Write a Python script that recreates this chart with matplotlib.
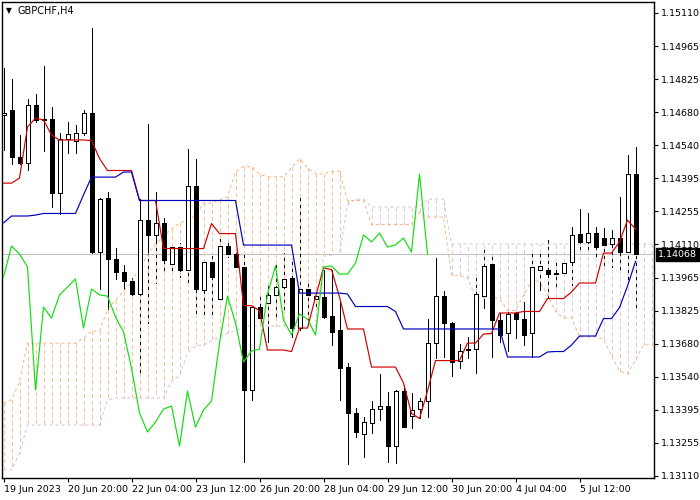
import numpy as np
import matplotlib.pyplot as plt
from matplotlib.patches import Rectangle
from matplotlib.transforms import blended_transform_factory

# GBPCHF H4 candles (bar 0 = 19 Jun 2023 12:00)
opens = [1.14669, 1.14691, 1.14488, 1.14462, 1.14712, 1.14652, 1.14652, 1.14332, 1.14566, 1.14557,
         1.14591, 1.14678, 1.14077, 1.14311, 1.14047, 1.13991, 1.13952, 1.13896, 1.14216, 1.14151,
         1.14203, 1.14026, 1.14099, 1.14000, 1.14362, 1.13913, 1.14034, 1.13874, 1.14103, 1.14069,
         1.14013, 1.13481, 1.13840, 1.13857, 1.13892, 1.13926, 1.13965, 1.13749, 1.13918, 1.13874,
         1.13883, 1.13801, 1.13740, 1.13580, 1.13382, 1.13291, 1.13339, 1.13399, 1.13412, 1.13239,
         1.13477, 1.13369, 1.13399, 1.13434, 1.13684, 1.13887, 1.13771, 1.13606, 1.13654, 1.13658,
         1.13887, 1.14026, 1.13784, 1.13727, 1.13814, 1.13788, 1.13727, 1.14000, 1.14000, 1.13987,
         1.13987, 1.14034, 1.14155, 1.14121, 1.14159, 1.14138, 1.14112, 1.14138, 1.14077, 1.14414]
highs = [1.14872, 1.14825, 1.14583, 1.14738, 1.14760, 1.14881, 1.14704, 1.14591, 1.14639, 1.14626,
         1.14691, 1.15045, 1.14311, 1.14337, 1.14095, 1.14021, 1.13965, 1.14306, 1.14630, 1.14337,
         1.14224, 1.14116, 1.14116, 1.14522, 1.14479, 1.14034, 1.14073, 1.14138, 1.14125, 1.14086,
         1.14073, 1.13840, 1.13900, 1.13943, 1.14021, 1.14073, 1.14043, 1.14328, 1.13943, 1.13904,
         1.13999, 1.13999, 1.13861, 1.13598, 1.13403, 1.13365, 1.13434, 1.13550, 1.13472, 1.13481,
         1.13503, 1.13468, 1.13447, 1.13788, 1.14051, 1.13909, 1.13775, 1.13680, 1.13710, 1.13969,
         1.14086, 1.14064, 1.13814, 1.13827, 1.13827, 1.13861, 1.14073, 1.14073, 1.14129, 1.14043,
         1.14047, 1.14185, 1.14263, 1.14246, 1.14185, 1.14181, 1.14172, 1.14315, 1.14496, 1.14531]
lows = [1.14518, 1.14458, 1.14458, 1.14432, 1.14639, 1.14514, 1.14272, 1.14242, 1.14505, 1.14505,
        1.14583, 1.14073, 1.13918, 1.13814, 1.13961, 1.13918, 1.13887, 1.13555, 1.13771, 1.13943,
        1.13987, 1.13987, 1.13969, 1.13943, 1.13814, 1.13792, 1.13792, 1.13870, 1.14056, 1.14013,
        1.13170, 1.13438, 1.13792, 1.13689, 1.13797, 1.13814, 1.13710, 1.13740, 1.13762, 1.13827,
        1.13792, 1.13676, 1.13438, 1.13162, 1.13278, 1.13192, 1.13295, 1.13352, 1.13170, 1.13166,
        1.13321, 1.13317, 1.13360, 1.13365, 1.13619, 1.13624, 1.13542, 1.13576, 1.13619, 1.13555,
        1.13835, 1.13624, 1.13689, 1.13650, 1.13706, 1.13676, 1.13624, 1.13913, 1.13883, 1.13926,
        1.13982, 1.13935, 1.14073, 1.14086, 1.14043, 1.14021, 1.14013, 1.13987, 1.13943, 1.13822]
closes = [1.14678, 1.14488, 1.14462, 1.14712, 1.14648, 1.14648, 1.14332, 1.14566, 1.14587, 1.14591,
          1.14678, 1.14077, 1.14306, 1.14047, 1.13991, 1.13952, 1.13896, 1.14216, 1.14151, 1.14203,
          1.14043, 1.14099, 1.14000, 1.14362, 1.13918, 1.14034, 1.13969, 1.14103, 1.14069, 1.14013,
          1.13481, 1.13840, 1.13792, 1.13892, 1.13926, 1.13961, 1.13749, 1.13918, 1.13892, 1.13887,
          1.13797, 1.13732, 1.13576, 1.13382, 1.13300, 1.13343, 1.13399, 1.13412, 1.13239, 1.13477,
          1.13321, 1.13395, 1.13434, 1.13684, 1.13887, 1.13771, 1.13602, 1.13650, 1.13658, 1.13896,
          1.14017, 1.13784, 1.13719, 1.13810, 1.13788, 1.13719, 1.14013, 1.14017, 1.13982, 1.13982,
          1.14030, 1.14151, 1.14121, 1.14159, 1.14099, 1.14108, 1.14138, 1.14077, 1.14414, 1.14068]

tenkan_start = [1.14375, 1.14375, 1.14397, 1.14617, 1.14656, 1.14648, 1.14583, 1.14561]
kijun_start = [1.14203, 1.14233, 1.14233, 1.14233, 1.14237, 1.14244, 1.14244, 1.14244, 1.14244, 1.14244,
               1.14324, 1.14401, 1.14401, 1.14401, 1.14401, 1.14423, 1.14423, 1.14300, 1.14300, 1.14300,
               1.14300, 1.14300, 1.14300, 1.14300, 1.14300]
span_a_start = [1.13425, 1.13438, 1.13516, 1.13684, 1.13684, 1.13684, 1.13684, 1.13684, 1.13684, 1.13684,
                1.13706, 1.13736, 1.13736, 1.13827, 1.13870, 1.13909, 1.13948, 1.14008, 1.14064, 1.14112,
                1.14146, 1.14177, 1.14203, 1.14216, 1.14233, 1.14289]
span_b = [1.13136, 1.13136, 1.13209, 1.13330, 1.13330, 1.13330, 1.13330, 1.13330, 1.13330, 1.13330,
          1.13330, 1.13330, 1.13330, 1.13438, 1.13447, 1.13447, 1.13447, 1.13447, 1.13447, 1.13447,
          1.13447, 1.13520, 1.13542, 1.13641, 1.13671, 1.13676, 1.13693, 1.13710, 1.13727, 1.13736,
          1.13758, 1.13758, 1.13758, 1.13758, 1.13758, 1.13758, 1.13758, 1.13758, 1.13758, 1.13758,
          1.14060, 1.14064, 1.14069, 1.14280, 1.14306, 1.14306, 1.14272, 1.14272, 1.14272, 1.14272,
          1.14272, 1.14272, 1.14272, 1.14306, 1.14306, 1.14306, 1.14112, 1.14112, 1.14112, 1.14112,
          1.14112, 1.14112, 1.14112, 1.14112, 1.14112, 1.14112, 1.14112, 1.14112, 1.14112, 1.14112,
          1.14112, 1.14112, 1.14112, 1.14112, 1.14112, 1.14112, 1.14112, 1.14112, 1.14112, 1.14112,
          1.14112, 1.14112]

price_ticks = ['1.13110', '1.13255', '1.13395', '1.13540', '1.13680', '1.13825', '1.13965', '1.14110',
               '1.14255', '1.14395', '1.14540', '1.14680', '1.14825', '1.14965', '1.15110']
date_ticks = [0, 8, 16, 24, 32, 40, 48, 56, 64, 72]
date_labels = ['19 Jun 2023', '20 Jun 20:00', '22 Jun 04:00', '23 Jun 12:00', '26 Jun 20:00',
               '28 Jun 04:00', '29 Jun 12:00', '30 Jun 20:00', '4 Jul 04:00', '5 Jul 12:00']
last_price = 1.14068

n = len(closes)
h = np.array(highs)
l = np.array(lows)

# Tenkan / Kijun from the candles once enough bars are on the chart
tenkan = list(tenkan_start)
for i in range(len(tenkan_start), n):
    tenkan.append((h[i - 8:i + 1].max() + l[i - 8:i + 1].min()) / 2)
kijun = list(kijun_start)
for i in range(len(kijun_start), n):
    kijun.append((h[i - 25:i + 1].max() + l[i - 25:i + 1].min()) / 2)

n_cloud = len(span_b)
span_a = list(span_a_start)
for k in range(len(span_a_start), n_cloud):
    span_a.append((tenkan[k - 26] + kijun[k - 26]) / 2)

chikou = closes[26:]

plt.rcParams['lines.scale_dashes'] = False
px = 0.72  # one pixel in points at 100 dpi
dash = (0, (3 * px, 3 * px))
sandy = '#f4a460'
thistle = '#d8bfd8'

fig = plt.figure(figsize=(7, 5), dpi=100)
ax = fig.add_axes([2 / 700, 22 / 500, 652 / 700, 476 / 500])

# cloud hatch: one dashed vertical per bar, drawn over the wicks
for k in range(n_cloud):
    up = span_a[k] >= span_b[k]
    col = '#f7c4a0' if up else '#dccadc'
    ax.plot([k, k], [span_a[k], span_b[k]], color=col, lw=px, linestyle=dash,
            antialiased=False, zorder=3)
ax.plot(range(n_cloud), span_a, color=sandy, lw=px, linestyle=dash, alpha=0.8, zorder=3)
ax.plot(range(n_cloud), span_b, color=thistle, lw=px, linestyle=dash, zorder=3)

ax.axhline(last_price, color='#c0c0c0', lw=px, antialiased=False, zorder=1)

# candles
for i in range(n):
    ax.plot([i, i], [lows[i], highs[i]], color='black', lw=px, antialiased=False, zorder=2)
    bottom = min(opens[i], closes[i])
    height = max(abs(closes[i] - opens[i]), 0.000015)
    face = 'white' if closes[i] >= opens[i] else 'black'
    ax.add_patch(Rectangle((i - 0.25, bottom), 0.5, height, facecolor=face,
                           edgecolor='black', lw=px, antialiased=False, zorder=4))

ax.plot(range(n), tenkan, color='#d00000', lw=0.85, zorder=5)
ax.plot(range(n), kijun, color='#0000c0', lw=0.85, zorder=5)
ax.plot(range(len(chikou)), chikou, color='#11dd11', lw=0.85, zorder=5)

# bar i sits on pixel column 3 + 8 i
ax.set_xlim(-0.1875, 81.3125)
ax.set_ylim(1.131012, 1.151575)

ax.yaxis.tick_right()
ax.set_yticks(np.linspace(1.13110, 1.15110, len(price_ticks)))
ax.set_yticklabels(price_ticks)
ax.set_xticks(date_ticks)
ax.set_xticklabels(date_labels, ha='left')
ax.tick_params(axis='both', length=3, width=0.8, pad=2, labelsize=6.8, direction='out')
for s in ax.spines.values():
    s.set_linewidth(1.0)

tr = blended_transform_factory(ax.transAxes, ax.transData)
ax.text(1.006, last_price, '1.14068', transform=tr, color='white', fontsize=6.8,
        ha='left', va='center', zorder=10,
        bbox=dict(boxstyle='square,pad=0.2', facecolor='black', edgecolor='black'))

fig.text(6 / 700, 1 - 11 / 500, '\u25bc', fontsize=5.5, va='center')
fig.text(18 / 700, 1 - 11 / 500, 'GBPCHF,H4', fontsize=7, va='center')

fig.savefig('out.png', dpi=100)
